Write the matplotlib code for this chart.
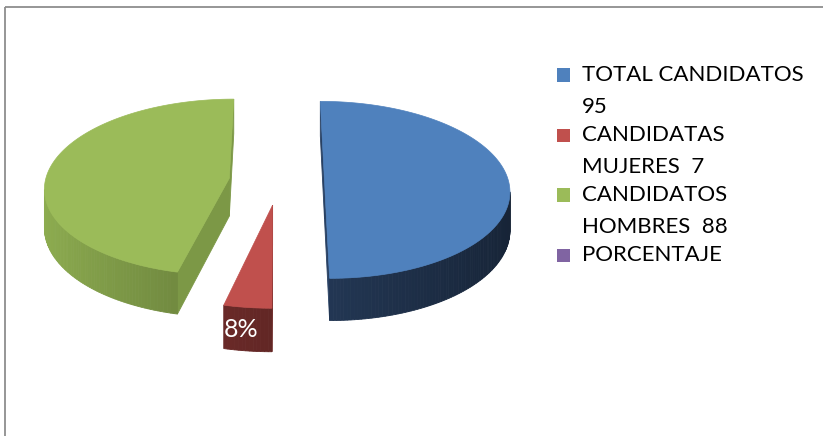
import numpy as np
import matplotlib
matplotlib.use("Agg")
import matplotlib.pyplot as plt
from matplotlib.patches import Polygon, Rectangle
from matplotlib.colors import to_rgb

# ---------------- data ----------------
categories = ["TOTAL CANDIDATOS 95", "CANDIDATAS MUJERES  7",
              "CANDIDATOS HOMBRES  88", "PORCENTAJE"]
legend_lines = [["TOTAL CANDIDATOS", "95"],
                ["CANDIDATAS", "MUJERES  7"],
                ["CANDIDATOS", "HOMBRES  88"],
                ["PORCENTAJE"]]
values = [95, 7, 88, 0]
data_labels = ["", "8%", "", ""]

# ---------------- style ----------------
top_colors = ["#4F81BD", "#C0504D", "#9BBB59", "#8064A2"]
side_colors = ["#2B4468", "#7A302E", "#83A04A", "#4D3C62"]
explode = [0.25, 0.27, 0.27, 0.0]

W, H = 823, 436
CX, CY = 278.5, 181.0     # pie centre (px)
RX, RY = 184.0, 87.6      # projected radii (px)
PERSP = 0.10              # perspective strength
DEPTH = 38.0              # thickness (px)

FONT = ["Lato", "DejaVu Sans"]


def proj(X, Y, z):
    s = 1.0 / (1.0 - PERSP * Y)
    return CX + RX * X * s, CY + (RY * Y + DEPTH * z) * s


def signed_area(pts):
    x = np.array([p[0] for p in pts])
    y = np.array([p[1] for p in pts])
    return 0.5 * np.sum(x * np.roll(y, -1) - np.roll(x, -1) * y)


def shade(color, f):
    r, g, b = to_rgb(color)
    return (min(1, r * f), min(1, g * f), min(1, b * f))


fig = plt.figure(figsize=(W / 100, H / 100), dpi=100)
ax = fig.add_axes([0, 0, 1, 1])
ax.set_xlim(0, W)
ax.set_ylim(H, 0)
ax.axis("off")

# chart frame
ax.add_patch(Rectangle((5, 7.5), W + 20, H + 20, fill=False,
                       edgecolor="#8E8E8E", linewidth=1.3, zorder=1))

total = float(sum(values))
start = 0.0
order = [2, 0, 1, 3]  # back to front
slices = []
for i, v in enumerate(values):
    sweep = 360.0 * v / total
    slices.append((start, start + sweep))
    start += sweep

label_pos = {}
for k, i in enumerate(order):
    p1, p2 = slices[i]
    if p2 - p1 <= 0:
        continue
    pm = np.radians((p1 + p2) / 2)
    ox, oy = explode[i] * np.sin(pm), -explode[i] * np.cos(pm)
    n = max(3, int((p2 - p1) / 1.0) + 1)
    ph = np.radians(np.linspace(p1, p2, n))
    AX = ox + np.sin(ph)
    AY = oy - np.cos(ph)
    top = [proj(x, y, 0) for x, y in zip(AX, AY)]
    bot = [proj(x, y, 1) for x, y in zip(AX, AY)]
    ctop = proj(ox, oy, 0)
    cbot = proj(ox, oy, 1)
    z0 = 10 + k * 10

    faces = []
    # radial faces
    faces.append(([ctop, top[0], bot[0], cbot], 0.95))
    faces.append(([top[-1], ctop, cbot, bot[-1]], 0.95))
    # curved side
    for j in range(n - 1):
        quad = [top[j], top[j + 1], bot[j + 1], bot[j]]
        phm = (ph[j] + ph[j + 1]) / 2
        f = 0.80 + 0.28 * (-np.sin(phm))
        faces.append((quad, f))
    for quad, f in faces:
        if signed_area(quad) < 0:
            c = shade(side_colors[i], f)
            ax.add_patch(Polygon(quad, closed=True, facecolor=c,
                                 edgecolor=c, linewidth=0.6, zorder=z0))
    ax.add_patch(Polygon([ctop] + top, closed=True,
                         facecolor=top_colors[i], edgecolor=top_colors[i],
                         linewidth=0.5, zorder=z0 + 1))
    if data_labels[i]:
        mx, my = ox + np.sin(pm), oy - np.cos(pm)
        label_pos[i] = proj(mx, my, 0.5)

for i, (x, y) in label_pos.items():
    ax.text(x - 7, y, data_labels[i], color="white", fontsize=18,
            family=FONT, ha="center", va="center", zorder=100)

# legend
sq_x, sq_size = 557, 13.5
txt_x = 582
line_gap = 31.5
entry_gap = 28.5
y = 81.0
for i, lines in enumerate(legend_lines):
    ax.add_patch(Rectangle((sq_x, y - 12.5), sq_size, sq_size,
                           facecolor=top_colors[i], edgecolor="none",
                           zorder=50))
    for j, t in enumerate(lines):
        ax.text(txt_x, y, t, fontsize=16, family=FONT, color="black",
                ha="left", va="baseline", zorder=50)
        y += line_gap if j < len(lines) - 1 else entry_gap

fig.savefig("out.png", dpi=100)
